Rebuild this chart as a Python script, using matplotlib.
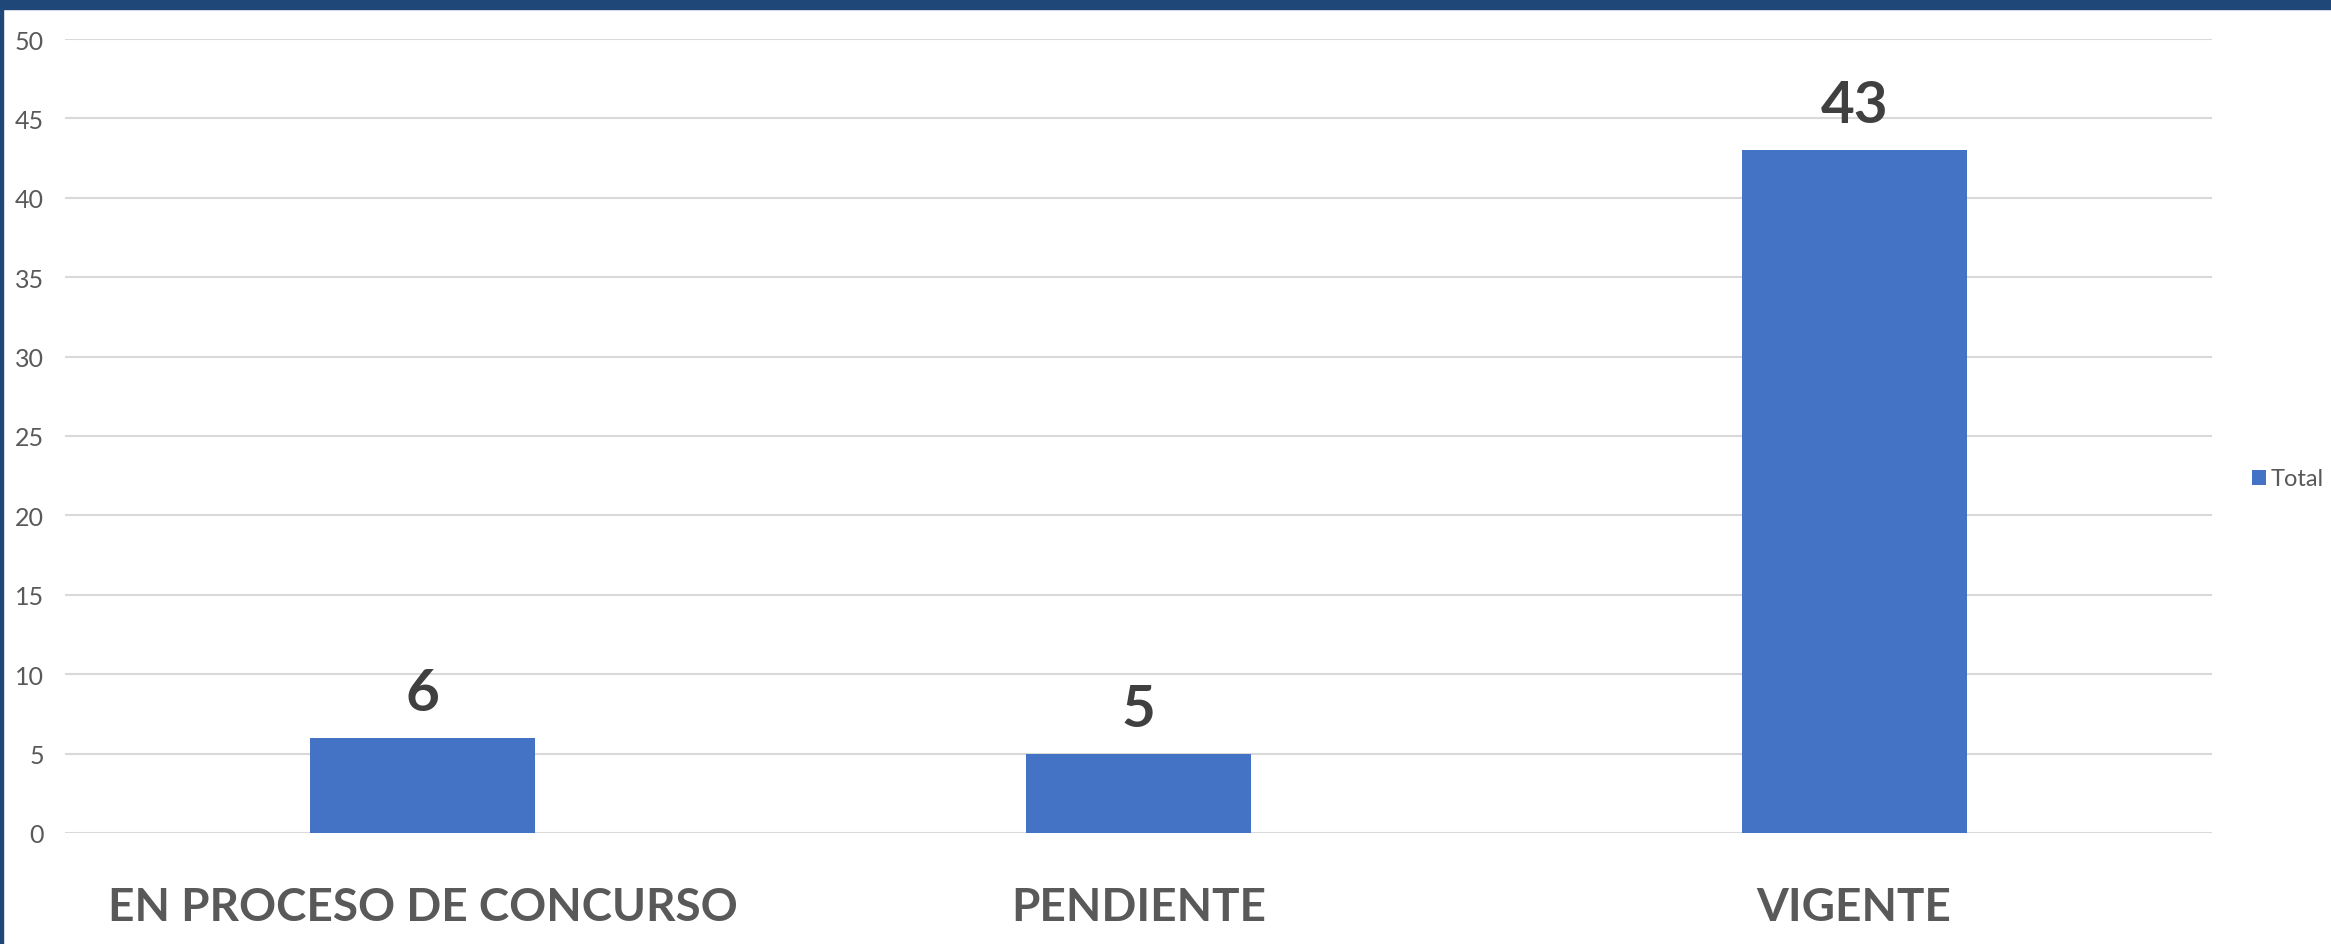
import matplotlib.pyplot as plt
from matplotlib.patches import Rectangle

categories = ["EN PROCESO DE CONCURSO", "PENDIENTE", "VIGENTE"]
totals = [6, 5, 43]
yticks = [0, 5, 10, 15, 20, 25, 30, 35, 40, 45, 50]

plt.rcParams["font.family"] = ["Lato", "DejaVu Sans"]

W, H = 2331, 945
fig = plt.figure(figsize=(W / 100, H / 100), dpi=100)
ax = fig.add_axes([65 / W, 1 - 834 / H, (2212 - 65) / W, (834 - 40) / H])

x = range(len(categories))
bars = ax.bar(x, totals, width=0.314, color="#4472C4", label="Total", zorder=3)

for b, v in zip(bars, totals):
    ax.annotate(str(v), (b.get_x() + b.get_width() / 2, v), xytext=(0, 13),
                textcoords="offset points", ha="center", va="bottom",
                fontsize=42, fontweight="bold", color="#404040")

ax.set_xlim(-0.5, 2.5)
ax.set_ylim(0, 50)
ax.set_yticks(yticks)
ax.set_xticks(list(x))
ax.set_xticklabels(categories, fontsize=33, fontweight="bold", color="#595959")
ax.tick_params(axis="x", length=0, pad=38)
ax.tick_params(axis="y", length=0, pad=15, labelsize=18, labelcolor="#595959")
ax.grid(axis="y", color="#D9D9D9", linewidth=1.5, zorder=0)
for s in ax.spines.values():
    s.set_visible(False)

fig.legend(handles=[bars], labels=["Total"], loc="center left",
           bbox_to_anchor=(2252 / W, 1 - 480 / H), frameon=False,
           fontsize=17, labelcolor="#595959", handlelength=0.6,
           handleheight=0.6, handletextpad=0.2, borderpad=0, borderaxespad=0)

# frame of the original slide
fig.patches.append(Rectangle((0, 1 - 10 / H), 1, 10 / H, transform=fig.transFigure,
                             color="#1F4778", zorder=10))
fig.patches.append(Rectangle((0, 0), 3 / W, 1, transform=fig.transFigure,
                             color="#1F4778", zorder=10))

fig.savefig("out.png", dpi=100)
